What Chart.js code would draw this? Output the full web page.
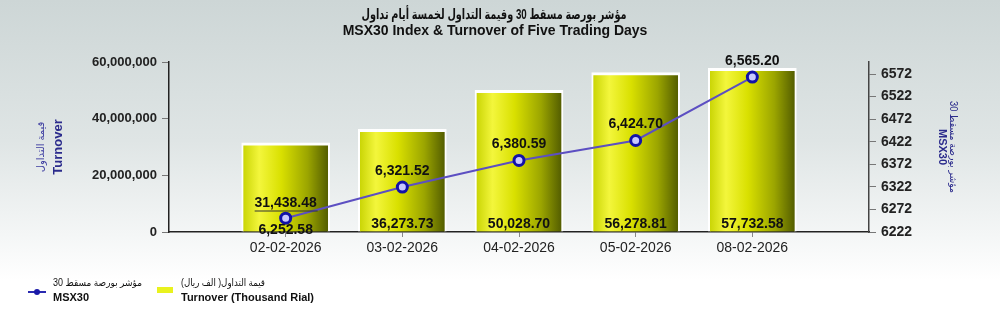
<!DOCTYPE html>
<html>
<head>
<meta charset="utf-8">
<script src="https://cdn.jsdelivr.net/npm/chart.js@4.4.1/dist/chart.umd.min.js"></script>
<style>
  html, body { margin: 0; padding: 0; }
  body { width: 1000px; height: 312px; overflow: hidden;
         background: linear-gradient(to bottom, #cdd6d6 0%, #dfe5e5 45%, #f4f6f6 75%, #ffffff 90%); }
  #wrap { position: relative; width: 1000px; height: 312px; }
</style>
</head>
<body>
<div id="wrap"><canvas id="myChart" width="1000" height="312"></canvas></div>
<script>
// data
let dates = ['02-02-2026', '03-02-2026', '04-02-2026', '05-02-2026', '08-02-2026'];
let turnoverThousand = [31438.48, 36273.73, 50028.70, 56278.81, 57732.58];
let msx30 = [6252.58, 6321.52, 6380.59, 6424.70, 6565.20];
let leftTicks = [0, 20000000, 40000000, 60000000];
let rightTicks = [6222, 6272, 6322, 6372, 6422, 6472, 6522, 6572];

const FONT = "Arial, 'Liberation Sans', 'DejaVu Sans', sans-serif";

// one empty slot each side, like the original spacing
let labels = [''].concat(dates).concat(['']);
let barData = [null].concat(turnoverThousand.map(v => v * 1000)).concat([null]);
let lineData = [null].concat(msx30).concat([null]);

function fmt2(v) {
    return v.toLocaleString('en-US', {minimumFractionDigits: 2, maximumFractionDigits: 2});
}

function barFill(context) {
    let chart = context.chart;
    if (!chart.chartArea || !chart.scales.x) return '#e0e400';
    let x = chart.scales.x.getPixelForValue(context.dataIndex);
    let g = chart.ctx.createLinearGradient(x - 44, 0, x + 44, 0);
    g.addColorStop(0, '#c6d200');
    g.addColorStop(0.2, '#f3f63c');
    g.addColorStop(0.45, '#d9e000');
    g.addColorStop(0.75, '#9ba500');
    g.addColorStop(1, '#4e5800');
    return g;
}

// titles, axis titles, value labels and legend
const decorations = {
    id: 'decorations',
    afterDatasetsDraw(chart) {
        let ctx = chart.ctx;
        let x = chart.scales.x, y1 = chart.scales.y1;
        ctx.save();
        ctx.textAlign = 'center';
        ctx.textBaseline = 'middle';
        ctx.fillStyle = '#111';
        ctx.font = 'bold 14px ' + FONT;

        // turnover labels at bar bottoms
        turnoverThousand.forEach((v, i) => {
            let px = x.getPixelForValue(i + 1);
            if (i === 0) {
                ctx.fillText(fmt2(v), px, 203);
                ctx.strokeStyle = '#333';
                ctx.lineWidth = 1;
                ctx.beginPath();
                ctx.moveTo(px - 31, 211);
                ctx.lineTo(px + 32, 211);
                ctx.stroke();
            } else {
                ctx.fillText(fmt2(v), px, 224);
            }
        });
        // index labels
        msx30.forEach((v, i) => {
            let px = x.getPixelForValue(i + 1);
            let py = y1.getPixelForValue(v);
            if (i === 0) ctx.fillText(fmt2(v), px, py + 12);
            else ctx.fillText(fmt2(v), px, py - 16);
        });

        // title
        ctx.font = 'bold 14px ' + FONT;
        ctx.fillText('مؤشر بورصة مسقط 30 وقيمة التداول لخمسة أيام تداول', 494, 15, 265);
        ctx.fillText('MSX30 Index & Turnover of Five Trading Days', 495, 31);

        // left axis title
        ctx.save();
        ctx.translate(58, 147);
        ctx.rotate(-Math.PI / 2);
        ctx.fillStyle = '#2b2b8c';
        ctx.font = 'bold 13px ' + FONT;
        ctx.fillText('Turnover', 0, 0);
        ctx.font = '10px ' + FONT;
        ctx.fillStyle = '#3c3ca0';
        ctx.fillText('قيمة التداول', 0, -17);
        ctx.restore();

        // right axis title
        ctx.save();
        ctx.translate(948, 147);
        ctx.rotate(Math.PI / 2);
        ctx.fillStyle = '#2b2b8c';
        ctx.font = '10px ' + FONT;
        ctx.fillText('مؤشر بورصة مسقط 30', 0, -5, 92);
        ctx.font = 'bold 11px ' + FONT;
        ctx.fillText('MSX30', 0, 6);
        ctx.restore();

        // legend
        ctx.strokeStyle = '#2a2ab0';
        ctx.lineWidth = 2;
        ctx.beginPath();
        ctx.moveTo(28, 292);
        ctx.lineTo(46, 292);
        ctx.stroke();
        ctx.fillStyle = '#1a1aa8';
        ctx.beginPath();
        ctx.arc(37, 292, 3, 0, Math.PI * 2);
        ctx.fill();
        ctx.fillStyle = '#e9f21e';
        ctx.fillRect(157, 287, 16, 6);

        ctx.fillStyle = '#111';
        ctx.textAlign = 'left';
        ctx.font = '10px ' + FONT;
        ctx.fillText('مؤشر بورصة مسقط 30', 53, 283, 89);
        ctx.fillText('قيمة التداول( الف ريال)', 181, 283, 84);
        ctx.font = 'bold 11px ' + FONT;
        ctx.fillText('MSX30', 53, 298);
        ctx.fillText('Turnover (Thousand Rial)', 181, 298);
        ctx.restore();
    }
};

let ctx = document.getElementById('myChart').getContext('2d');
const myChart = new Chart(ctx, {
    data: {
        labels: labels,
        datasets: [
            {
                type: 'line',
                label: 'MSX30',
                data: lineData,
                yAxisID: 'y1',
                order: 0,
                borderColor: '#5c4fc2',
                borderWidth: 2,
                pointRadius: 5,
                pointBackgroundColor: '#c8c8ff',
                pointBorderColor: '#1212a8',
                pointBorderWidth: 3
            },
            {
                type: 'bar',
                label: 'Turnover (Thousand Rial)',
                data: barData,
                yAxisID: 'y',
                order: 1,
                barThickness: 88,
                backgroundColor: barFill,
                borderColor: '#ffffff',
                borderWidth: {top: 3, left: 2, right: 2, bottom: 0},
                borderSkipped: 'bottom'
            }
        ]
    },
    options: {
        responsive: false,
        animation: false,
        events: [],
        layout: {padding: {top: 62, left: 0, right: 0, bottom: 0}},
        plugins: {
            legend: {display: false},
            tooltip: {enabled: false},
            title: {display: false}
        },
        scales: {
            x: {
                offset: false,
                grid: {
                    offset: false,
                    drawOnChartArea: false,
                    tickLength: 5,
                    // no tick under the padding slots at the ends
                    color: c => (c.index === 0 || c.index === labels.length - 1) ? 'rgba(0,0,0,0)' : '#888'
                },
                border: {color: '#222', width: 1.5},
                ticks: {color: '#222', font: {family: FONT, size: 14}, padding: 3, maxRotation: 0, autoSkip: false},
                afterFit(scale) { scale.height = 80; }
            },
            y: {
                position: 'left',
                min: 0,
                max: 60000000,
                afterBuildTicks(scale) { scale.ticks = leftTicks.map(v => ({value: v})); },
                grid: {drawOnChartArea: false, tickLength: 7, color: '#777'},
                border: {color: '#222', width: 1.5},
                ticks: {
                    color: '#222',
                    font: {family: FONT, size: 13, weight: 'bold'},
                    padding: 5,
                    callback: v => v.toLocaleString('en-US')
                },
                afterFit(scale) { scale.width = 169; }
            },
            y1: {
                position: 'right',
                min: 6222,
                max: 6598.6,
                afterBuildTicks(scale) { scale.ticks = rightTicks.map(v => ({value: v})); },
                grid: {drawOnChartArea: false, tickLength: 7, color: '#777'},
                border: {color: '#444', width: 1.5},
                ticks: {
                    color: '#222',
                    font: {family: FONT, size: 14, weight: 'bold'},
                    padding: 5,
                    callback: v => String(v)
                },
                afterFit(scale) { scale.width = 131; }
            }
        }
    },
    plugins: [decorations]
});
</script>
</body>
</html>
